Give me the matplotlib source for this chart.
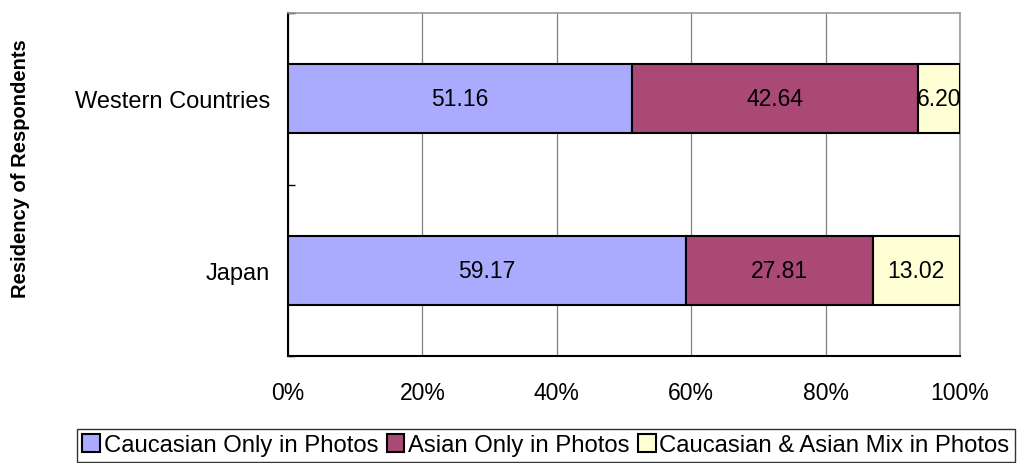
import matplotlib.pyplot as plt
from matplotlib.ticker import PercentFormatter

plt.rcParams['font.family'] = ['Liberation Sans', 'DejaVu Sans']

regions = ['Japan', 'Western Countries']
caucasian_only = [59.17, 51.16]
asian_only = [27.81, 42.64]
mixed = [13.02, 6.20]
series_names = ['Caucasian Only in Photos', 'Asian Only in Photos',
                'Caucasian & Asian Mix in Photos']
series_colors = ['#AAAAFF', '#AA4975', '#FFFFD6']

fig = plt.figure(figsize=(10.26, 4.64), dpi=100)
ax = fig.add_axes([0.2807, 0.2306, 0.6550, 0.7392])

ypos = list(range(len(regions)))
left = [0.0] * len(regions)
handles = []
for values, name, color in zip([caucasian_only, asian_only, mixed], series_names, series_colors):
    bars = ax.barh(ypos, values, left=left, height=0.4, color=color,
                   edgecolor='black', linewidth=1.5, label=name, zorder=3)
    handles.append(bars)
    for y, l, v in zip(ypos, left, values):
        ax.text(l + v / 2, y, f'{v:.2f}', ha='center', va='center',
                fontsize=16.5, color='black', zorder=4)
    left = [a + b for a, b in zip(left, values)]

ax.set_xlim(0, 100)
ax.set_ylim(-0.5, 1.5)
ax.xaxis.set_major_formatter(PercentFormatter(decimals=0))
ax.set_xticks(range(0, 101, 20))
ax.tick_params(axis='x', length=0, pad=18, labelsize=16.5)

# category labels centred, small ticks on the boundaries
ax.set_yticks(ypos)
ax.set_yticklabels(regions)
ax.set_yticks([-0.5, 0.5, 1.5], minor=True)
ax.tick_params(axis='y', which='major', length=0, pad=13, labelsize=17)
ax.tick_params(axis='y', which='minor', length=5, direction='in', width=1)

ax.grid(axis='x', color='#808080', linewidth=0.9, zorder=0)
for side in ['top', 'right']:
    ax.spines[side].set_color('#999999')
    ax.spines[side].set_linewidth(1.2)
for side in ['left', 'bottom']:
    ax.spines[side].set_color('black')
    ax.spines[side].set_linewidth(1.5)

fig.text(0.02, 0.636, 'Residency of Respondents', rotation=90, ha='center',
         va='center', fontsize=14.5, fontweight='bold')

leg = fig.legend(handles=handles, loc='upper left', bbox_to_anchor=(0.075, 0.0733),
                 ncol=3, frameon=True, fancybox=False, fontsize=17.2,
                 handlelength=0.75, handleheight=0.75, handletextpad=0.15,
                 columnspacing=0.35, borderpad=0.22, borderaxespad=0)
leg.get_frame().set_edgecolor('black')
leg.get_frame().set_linewidth(1.0)

fig.savefig('out.png', dpi=100)
